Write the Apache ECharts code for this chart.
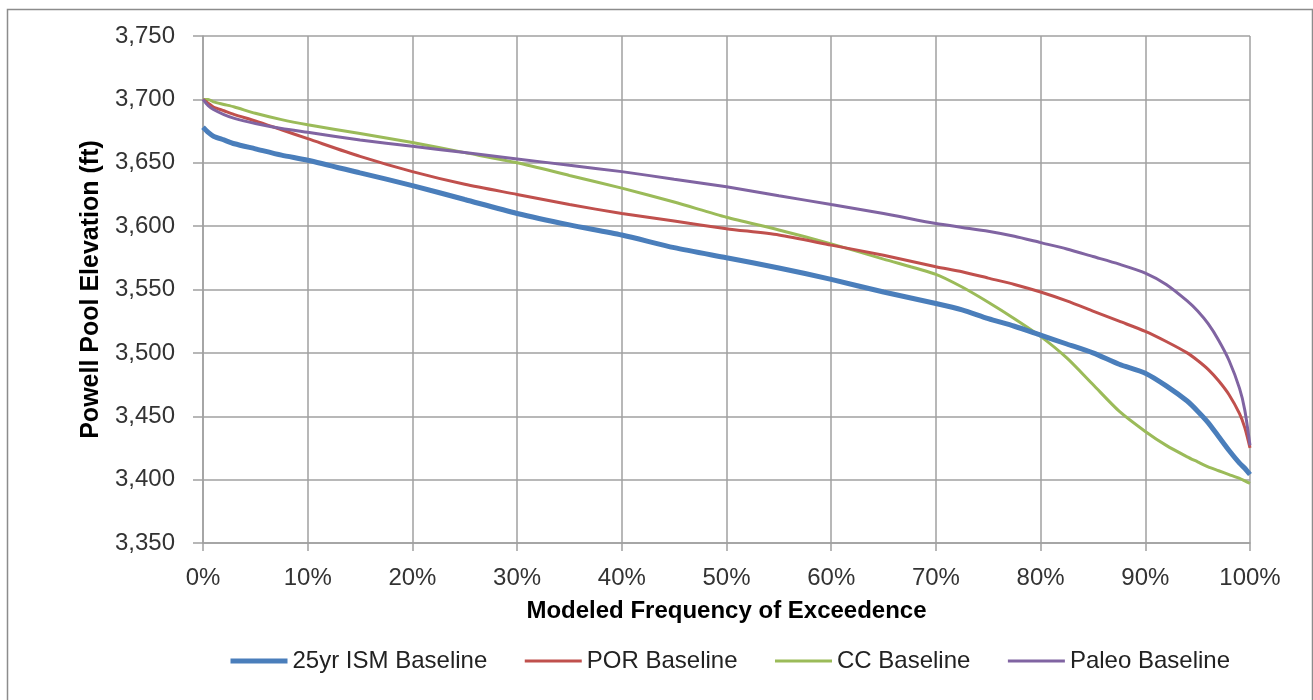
<!DOCTYPE html>
<html>
<head>
<meta charset="utf-8">
<script src="https://cdn.jsdelivr.net/npm/echarts@6/dist/echarts.min.js"></script>
<style>
  html, body { margin: 0; padding: 0; background: #fff; }
  #chart { width: 1313px; height: 700px; }
</style>
</head>
<body>
<div id="chart"></div>
<script>
const pct = [0, 0.5, 1, 2, 3, 5, 7.5, 10, 15, 20, 25, 30, 35, 40, 45, 50, 55, 60, 65, 70, 72.5, 75, 77.5, 80, 82.5, 85, 87.5, 90, 92, 94, 95, 96, 97, 98, 99, 99.5, 100];

const ism25 = [3678, 3674, 3671, 3668, 3665, 3661, 3656, 3652, 3642, 3632, 3621, 3610, 3601, 3593, 3583, 3575, 3567, 3558, 3548, 3539, 3534, 3527, 3521, 3514, 3507, 3500, 3491, 3484, 3474, 3462, 3454, 3445, 3434, 3423, 3413, 3409, 3404];

const por = [3700, 3697, 3694, 3691, 3688, 3683, 3676, 3669, 3655, 3643, 3633, 3625, 3617, 3610, 3604, 3598, 3593, 3585, 3577, 3568, 3564, 3559, 3554, 3548, 3541, 3533, 3525, 3517, 3509, 3500, 3494, 3487, 3478, 3467, 3452, 3441, 3425];

const cc = [3700, 3700, 3698, 3696, 3694, 3689, 3684, 3680, 3673, 3666, 3658, 3650, 3640, 3630, 3619, 3607, 3597, 3586, 3574, 3562, 3552, 3540, 3527, 3513, 3496, 3475, 3454, 3438, 3427, 3418, 3414, 3410, 3407, 3404, 3401, 3399, 3397];

const paleo = [3700, 3695, 3692, 3688, 3685, 3681, 3677, 3674, 3668, 3663, 3658, 3653, 3648, 3643, 3637, 3631, 3624, 3617, 3610, 3602, 3599, 3596, 3592, 3587, 3582, 3576, 3570, 3563, 3554, 3541, 3533, 3523, 3510, 3494, 3472, 3455, 3427];

const seriesNames = ['25yr ISM Baseline', 'POR Baseline', 'CC Baseline', 'Paleo Baseline'];
const xTitle = 'Modeled Frequency of Exceedence';
const yTitle = 'Powell Pool Elevation (ft)';

function pairs(arr) { return pct.map((p, i) => [p, arr[i]]); }

const font = 'Liberation Sans, Arial, sans-serif';
const chart = echarts.init(document.getElementById('chart'));
chart.setOption({
  backgroundColor: '#ffffff',
  animation: false,
  graphic: [{
    type: 'rect',
    shape: { x: 7.5, y: 9.5, width: 1305, height: 700 },
    style: { fill: 'none', stroke: '#8c8c8c', lineWidth: 1.5 },
    silent: true
  }],
  grid: { left: 203, right: 63, top: 36, bottom: 157 },
  xAxis: {
    type: 'value', min: 0, max: 100, interval: 10,
    name: xTitle, nameLocation: 'middle', nameGap: 56,
    nameTextStyle: { fontFamily: font, fontSize: 24, fontWeight: 'bold', color: '#000' },
    axisLine: { show: true, lineStyle: { color: '#a0a0a0', width: 1.5 } },
    axisTick: { show: true, length: 8, lineStyle: { color: '#a0a0a0', width: 1.5 } },
    axisLabel: { formatter: '{value}%', fontFamily: font, fontSize: 24, color: '#333', margin: 23 },
    splitLine: { show: true, lineStyle: { color: '#a0a0a0', width: 1.5 } }
  },
  yAxis: {
    type: 'value', min: 3350, max: 3750, interval: 50,
    name: yTitle, nameLocation: 'middle', nameGap: 98,
    nameTextStyle: { fontFamily: font, fontSize: 25, fontWeight: 'bold', color: '#000' },
    axisLine: { show: true, lineStyle: { color: '#a0a0a0', width: 1.5 } },
    axisTick: { show: true, length: 10, lineStyle: { color: '#a0a0a0', width: 1.5 } },
    axisLabel: {
      formatter: v => v.toLocaleString('en-US'),
      fontFamily: font, fontSize: 24, color: '#333', margin: 28
    },
    splitLine: { show: true, lineStyle: { color: '#a0a0a0', width: 1.5 } }
  },
  legend: {
    left: 228, bottom: 27, padding: 0,
    itemWidth: 57, itemHeight: 14, itemGap: 36,
    itemStyle: { opacity: 0 },
    lineStyle: { width: 'inherit' },
    textStyle: { fontFamily: font, fontSize: 24, color: '#222' },
    data: seriesNames
  },
  series: [
    { name: seriesNames[0], type: 'line', data: pairs(ism25), symbol: 'none', smooth: 0.25, lineStyle: { color: '#4a7ebb', width: 5 }, itemStyle: { color: '#4a7ebb' }, z: 4 },
    { name: seriesNames[1], type: 'line', data: pairs(por), symbol: 'none', smooth: 0.25, lineStyle: { color: '#c0504d', width: 3 }, itemStyle: { color: '#c0504d' }, z: 3 },
    { name: seriesNames[2], type: 'line', data: pairs(cc), symbol: 'none', smooth: 0.25, lineStyle: { color: '#9bbb59', width: 3 }, itemStyle: { color: '#9bbb59' }, z: 2 },
    { name: seriesNames[3], type: 'line', data: pairs(paleo), symbol: 'none', smooth: 0.25, lineStyle: { color: '#8064a2', width: 3 }, itemStyle: { color: '#8064a2' }, z: 5 }
  ]
});
</script>
</body>
</html>
